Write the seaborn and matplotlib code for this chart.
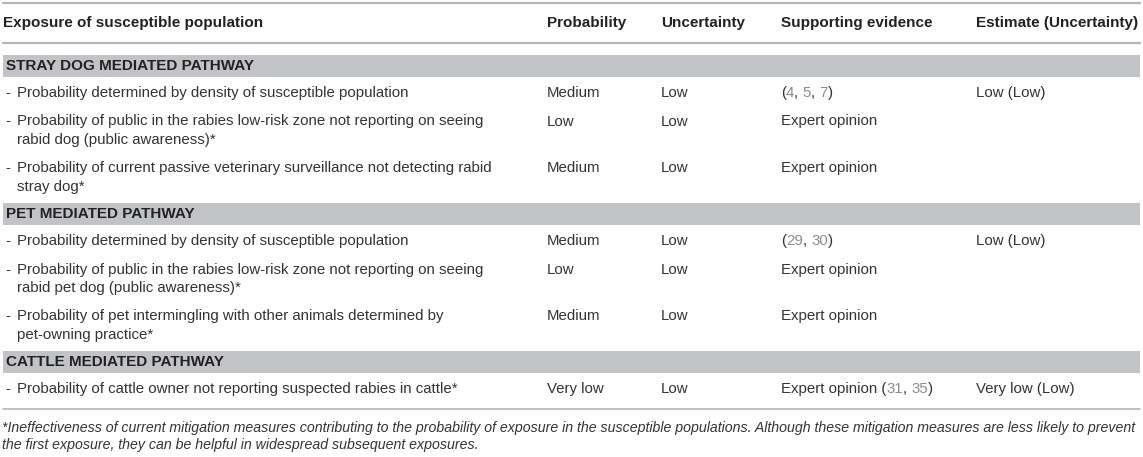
import re

import matplotlib

matplotlib.use('Agg')
import matplotlib.pyplot as plt
import seaborn as sns
from matplotlib.patches import Rectangle

headers = ['Exposure of susceptible population', 'Probability', 'Uncertainty',
           'Supporting evidence', 'Estimate (Uncertainty)']
pathways = ['STRAY DOG MEDIATED PATHWAY', 'PET MEDIATED PATHWAY', 'CATTLE MEDIATED PATHWAY']
item_pathway = [0, 0, 0, 1, 1, 1, 2]
items = [
    ['Probability determined by density of susceptible population'],
    ['Probability of public in the rabies low-risk zone not reporting on seeing',
     'rabid dog (public awareness)*'],
    ['Probability of current passive veterinary surveillance not detecting rabid',
     'stray dog*'],
    ['Probability determined by density of susceptible population'],
    ['Probability of public in the rabies low-risk zone not reporting on seeing',
     'rabid pet dog (public awareness)*'],
    ['Probability of pet intermingling with other animals determined by',
     'pet-owning practice*'],
    ['Probability of cattle owner not reporting suspected rabies in cattle*'],
]
probability = ['Medium', 'Low', 'Medium', 'Medium', 'Low', 'Medium', 'Very low']
uncertainty = ['Low', 'Low', 'Low', 'Low', 'Low', 'Low', 'Low']
evidence = ['(4, 5, 7)', 'Expert opinion', 'Expert opinion', '(29, 30)',
            'Expert opinion', 'Expert opinion', 'Expert opinion (31, 35)']
estimate = ['Low (Low)', '', '', 'Low (Low)', '', '', 'Very low (Low)']
footnote = [
    '*Ineffectiveness of current mitigation measures contributing to the probability of exposure '
    'in the susceptible populations. Although these mitigation measures are less likely to prevent',
    'the first exposure, they can be helpful in widespread subsequent exposures.',
]

TEXT = '#333333'
CITE = '#8c8c8c'
BAND = '#c2c3c6'
RULE = '#b5b5b5'
FS = 10.8
FS_BOLD = 11.0
FS_NOTE = 10.2
col_x = [3, 547, 661, 781, 976]
item_x = 17
dash_x = 5
pitch = 18.3
row_gap = 28.5

sns.set_theme(style='white')
plt.rcParams['font.family'] = ['Liberation Sans', 'DejaVu Sans']

fig = plt.figure(figsize=(11.43, 4.57), dpi=100)
ax = fig.add_axes([0, 0, 1, 1])
ax.set_xlim(0, 1143)
ax.set_ylim(457, 0)
ax.axis('off')


def draw_evidence(x, y, s):
    prev = None
    for part in re.split(r'(\d+)', s):
        if not part:
            continue
        color = CITE if part.isdigit() else TEXT
        if prev is None:
            prev = ax.text(x, y, part, color=color, va='center', ha='left', fontsize=FS)
        else:
            prev = ax.annotate(part, xy=(1, 0.5), xycoords=prev, va='center', ha='left',
                               color=color, fontsize=FS)


# header
ax.plot([3, 1140], [3, 3], color=RULE, lw=1.6)
for x, h in zip(col_x, headers):
    ax.text(x, 23, h, fontsize=FS_BOLD, fontweight='bold', color='#222222', va='center')
ax.plot([3, 1140], [43, 43], color=RULE, lw=1.6)

cursor = 55
last = cursor
for p, name in enumerate(pathways):
    ax.add_patch(Rectangle((3, cursor), 1137, 22, color=BAND, lw=0))
    ax.text(6, cursor + 11, name, fontsize=FS_BOLD, fontweight='bold', color='#222222', va='center')
    yc = cursor + 22 + 16
    for i in [k for k, g in enumerate(item_pathway) if g == p]:
        ax.text(dash_x, yc, '-', fontsize=FS, color=TEXT, va='center')
        for j, line in enumerate(items[i]):
            ax.text(item_x, yc + j * pitch, line, fontsize=FS, color=TEXT, va='center')
        ax.text(col_x[1], yc, probability[i], fontsize=FS, color=TEXT, va='center')
        ax.text(col_x[2], yc, uncertainty[i], fontsize=FS, color=TEXT, va='center')
        draw_evidence(col_x[3], yc, evidence[i])
        if estimate[i]:
            ax.text(col_x[4], yc, estimate[i], fontsize=FS, color=TEXT, va='center')
        last = yc + pitch * (len(items[i]) - 1)
        yc = last + row_gap
    cursor = last + 16.5

ax.plot([3, 1140], [last + 20, last + 20], color=RULE, lw=1.2)
for j, line in enumerate(footnote):
    ax.text(2, last + 39 + j * 16.5, line, fontsize=FS_NOTE, fontstyle='italic', color=TEXT, va='center')

fig.savefig('out.png', dpi=100)
